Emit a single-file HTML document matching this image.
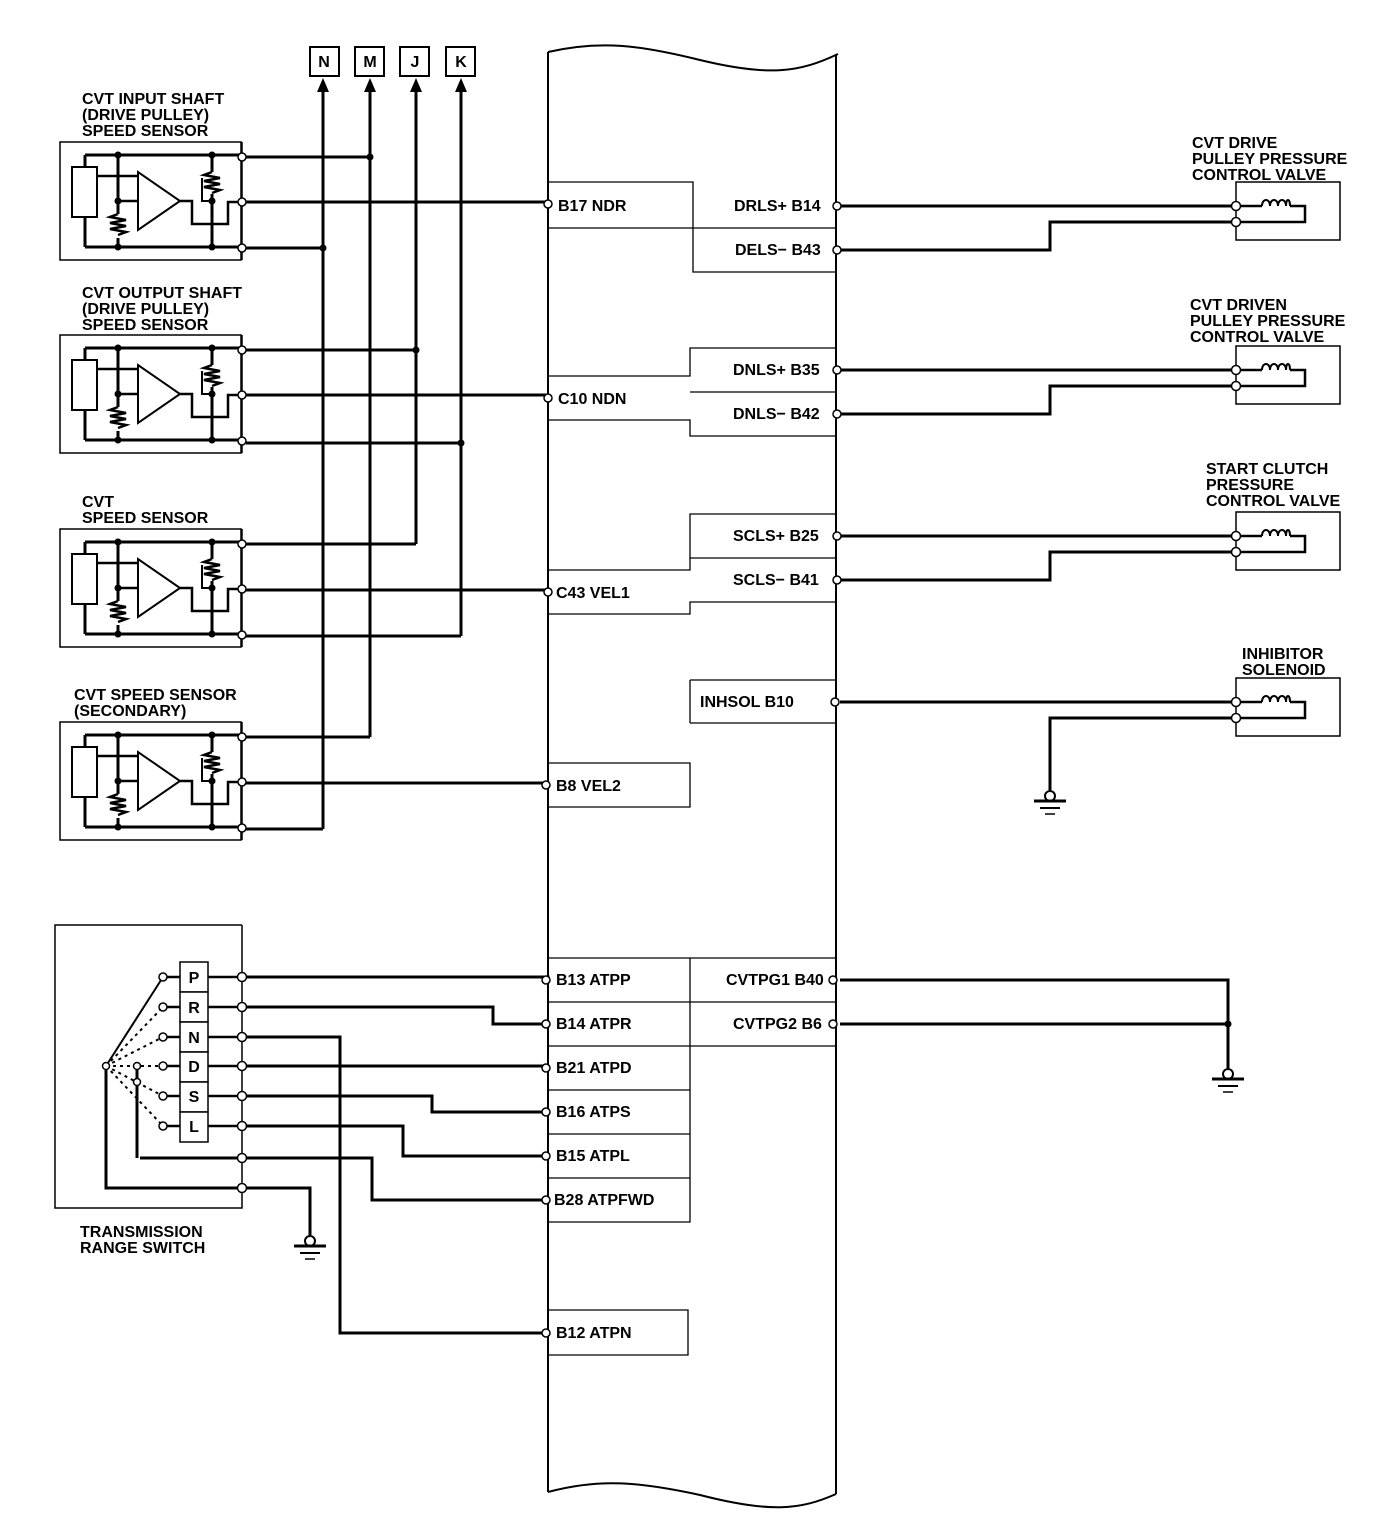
<!DOCTYPE html>
<html><head><meta charset="utf-8"><style>
html,body{margin:0;padding:0;background:#fff;}
svg{display:block;}
text{font-family:"Liberation Sans",Arial,sans-serif;font-weight:bold;font-size:16px;fill:#000;}
</style></head><body>
<svg width="1392" height="1526" viewBox="0 0 1392 1526" xmlns="http://www.w3.org/2000/svg">
<defs>
<g id="sensor" fill="none" stroke="#000">
  <rect x="60" y="0" width="181" height="118" stroke-width="1.5"/>
  <path d="M85 13 H242 M85 105 H242 M85 13 V25 M85 75 V105" stroke-width="3"/>
  <rect x="72" y="25" width="25" height="50" stroke-width="2"/>
  <path d="M118 13 V72 M118 96 V105 M212 13 V30 M212 52 V105" stroke-width="3"/>
  <path d="M118 72 l-8 3 l16 3 l-16 3 l16 3 l-16 3 l16 3 l-8 3" stroke-width="2.5"/>
  <path d="M212 30 l-8 3 l16 3 l-16 3 l16 3 l-16 3 l16 3 l-8 3" stroke-width="2.5"/>
  <path d="M97 34 H138 M118 59 H138" stroke-width="2.5"/>
  <path d="M138 30 V88 L180 59 Z" stroke-width="2" fill="#fff"/>
  <path d="M180 59 H192 V82 H228 V60 H242" stroke-width="2.5"/>
  <path d="M202 36 V59 H212" stroke-width="2"/>
  <g fill="#000" stroke="none">
    <circle cx="118" cy="13" r="3.5"/><circle cx="118" cy="59" r="3.5"/><circle cx="118" cy="105" r="3.5"/>
    <circle cx="212" cy="13" r="3.5"/><circle cx="212" cy="59" r="3.5"/><circle cx="212" cy="105" r="3.5"/>
  </g>
  <line x1="242" y1="0" x2="242" y2="118" stroke-width="1.5"/>
  <g fill="#fff" stroke-width="1.5">
    <circle cx="242" cy="15" r="4"/><circle cx="242" cy="60" r="4"/><circle cx="242" cy="106" r="4"/>
  </g>
</g>
<g id="valve" fill="none" stroke="#000">
  <path d="M1236 -24 H1340 V34 H1236 Z" stroke-width="1.5"/>
  <path d="M1240 0 H1262 M1290 0 H1305 V16 H1240" stroke-width="2.5"/>
  <path d="M1262 0 c0 -8 8 -8 8 0 c0 -8 8 -8 8 0 c0 -8 8 -8 8 0 c0 -8 4 -8 4 0" stroke-width="2"/>
  <circle cx="1236" cy="0" r="4.5" fill="#fff" stroke-width="1.5"/>
  <circle cx="1236" cy="16" r="4.5" fill="#fff" stroke-width="1.5"/>
</g>
<g id="gnd" fill="none" stroke="#000">
  <circle cx="0" cy="-4" r="5" fill="#fff" stroke-width="2"/>
  <path d="M-16 1 H16" stroke-width="3"/><path d="M-10 8 H10" stroke-width="2"/><path d="M-5 14 H5" stroke-width="1.5"/>
</g>
</defs>

<g fill="none" stroke="#000" stroke-width="2">
  <path d="M548 52 C600 40 640 45 700 60 C770 77 800 72 838 54"/>
  <path d="M548 52 V1492 M836 54 V1494"/>
  <path d="M548 1492 C600 1478 640 1482 700 1495 C770 1513 800 1510 836 1494"/>
</g>

<use href="#sensor" transform="translate(0,142)"/>
<use href="#sensor" transform="translate(0,335)"/>
<use href="#sensor" transform="translate(0,529)"/>
<use href="#sensor" transform="translate(0,722)"/>

<g>
<text x="82" y="104">CVT INPUT SHAFT</text><text x="82" y="120">(DRIVE PULLEY)</text><text x="82" y="136">SPEED SENSOR</text>
<text x="82" y="298">CVT OUTPUT SHAFT</text><text x="82" y="314">(DRIVE PULLEY)</text><text x="82" y="330">SPEED SENSOR</text>
<text x="82" y="507">CVT</text><text x="82" y="523">SPEED SENSOR</text>
<text x="74" y="700">CVT SPEED SENSOR</text><text x="74" y="716">(SECONDARY)</text>
</g>

<g stroke="#000" stroke-width="3" fill="none">
  <path d="M323 88 V829 M370 88 V737 M416 88 V544 M461 88 V636"/>
  <path d="M246 157 H370 M246 248 H323 M246 202 H548 V204"/>
  <path d="M246 350 H416 M246 443 H461 M246 395 H548"/>
  <path d="M246 544 H416 M246 636 H461 M246 590 H548"/>
  <path d="M246 737 H370 M246 829 H323 M246 783 H548"/>
</g>
<g fill="#000">
  <path d="M317 92 L323 78 L329 92 Z"/><path d="M364 92 L370 78 L376 92 Z"/><path d="M410 92 L416 78 L422 92 Z"/><path d="M455 92 L461 78 L467 92 Z"/>
  <circle cx="370" cy="157" r="3.5"/><circle cx="323" cy="248" r="3.5"/><circle cx="416" cy="350" r="3.5"/><circle cx="461" cy="443" r="3.5"/>
</g>
<g fill="#fff" stroke="#000" stroke-width="2">
  <rect x="310" y="47" width="29" height="29"/><rect x="355" y="47" width="29" height="29"/><rect x="400" y="47" width="29" height="29"/><rect x="446" y="47" width="29" height="29"/>
</g>
<text x="324" y="67" text-anchor="middle" font-size="15">N</text><text x="370" y="67" text-anchor="middle" font-size="15">M</text><text x="415" y="67" text-anchor="middle" font-size="15">J</text><text x="461" y="67" text-anchor="middle" font-size="15">K</text>

<g fill="none" stroke="#000" stroke-width="1.3">
  <path d="M548 182 H693 V272 H836 M548 228 H836"/>
  <path d="M548 376 H690 V348 H836 M548 420 H690 V436 H836 M690 392 H836"/>
  <path d="M548 570 H690 V514 H836 M548 614 H690 V602 H836 M690 558 H836"/>
  <path d="M690 680 H836 M690 723 H836 M690 680 V723"/>
  <path d="M548 763 H690 V807 H548"/>
  <path d="M548 958 H690 V1222 H548 M548 1002 H690 M548 1046 H836 M548 1090 H690 M548 1134 H690 M548 1178 H690 M690 958 H836 M690 1002 H836"/>
  <path d="M548 1310 H688 V1355 H548"/>
</g>
<g>
<text x="558" y="211">B17 NDR</text><text x="558" y="404">C10 NDN</text><text x="556" y="598">C43 VEL1</text><text x="556" y="791">B8 VEL2</text>
<text x="734" y="211">DRLS+ B14</text><text x="735" y="255">DELS− B43</text>
<text x="733" y="375">DNLS+ B35</text><text x="733" y="419">DNLS− B42</text>
<text x="733" y="541">SCLS+ B25</text><text x="733" y="585">SCLS− B41</text>
<text x="700" y="707">INHSOL B10</text>
<text x="726" y="985">CVTPG1 B40</text><text x="733" y="1029">CVTPG2 B6</text>
<text x="556" y="985">B13 ATPP</text><text x="556" y="1029">B14 ATPR</text><text x="556" y="1073">B21 ATPD</text>
<text x="556" y="1117">B16 ATPS</text><text x="556" y="1161">B15 ATPL</text><text x="554" y="1205">B28 ATPFWD</text>
<text x="556" y="1338">B12 ATPN</text>
</g>

<g stroke="#000" stroke-width="3" fill="none">
  <path d="M840 206 H1232 M840 250 H1050 V222 H1232"/>
  <path d="M840 370 H1232 M840 414 H1050 V386 H1232"/>
  <path d="M840 536 H1232 M840 580 H1050 V552 H1232"/>
  <path d="M840 702 H1232 M1232 718 H1050 V790"/>
  <path d="M840 980 H1228 V1068 M840 1024 H1228"/>
</g>
<circle cx="1228" cy="1024" r="3.5" fill="#000"/>
<use href="#valve" transform="translate(0,206)"/>
<use href="#valve" transform="translate(0,370)"/>
<use href="#valve" transform="translate(0,536)"/>
<use href="#valve" transform="translate(0,702)"/>
<use href="#gnd" transform="translate(1050,800)"/>
<use href="#gnd" transform="translate(1228,1078)"/>
<g fill="#fff" stroke="#000" stroke-width="1.5">
  <circle cx="837" cy="206" r="4"/><circle cx="837" cy="250" r="4"/><circle cx="837" cy="370" r="4"/><circle cx="837" cy="414" r="4"/>
  <circle cx="837" cy="536" r="4"/><circle cx="837" cy="580" r="4"/><circle cx="835" cy="702" r="4"/>
  <circle cx="833" cy="980" r="4"/><circle cx="833" cy="1024" r="4"/>
  <circle cx="548" cy="204" r="4"/><circle cx="548" cy="398" r="4"/><circle cx="548" cy="592" r="4"/><circle cx="546" cy="785" r="4"/>
</g>
<g>
<text x="1192" y="148">CVT DRIVE</text><text x="1192" y="164">PULLEY PRESSURE</text><text x="1192" y="180">CONTROL VALVE</text>
<text x="1190" y="310">CVT DRIVEN</text><text x="1190" y="326">PULLEY PRESSURE</text><text x="1190" y="342">CONTROL VALVE</text>
<text x="1206" y="474">START CLUTCH</text><text x="1206" y="490">PRESSURE</text><text x="1206" y="506">CONTROL VALVE</text>
<text x="1242" y="659">INHIBITOR</text><text x="1242" y="675">SOLENOID</text>
</g>

<g fill="none" stroke="#000">
  <path d="M242 925 H55 V1208 H242 V925" stroke-width="1.5"/>
  <path d="M246 977 H548 V980 M246 1007 H493 V1024 H548 M246 1037 H340 V1333 H548 M246 1066 H548 M246 1096 H432 V1112 H548 M246 1126 H403 V1156 H548 M140 1158 H372 V1200 H548 M106 1066 V1188 H310 V1236 M137 1068 V1158" stroke-width="3"/>
  <path d="M106 1066 L163 977" stroke-width="2"/>
  <path d="M106 1066 L163 1007 M106 1066 L163 1037 M106 1066 L163 1066 M106 1066 L163 1096 M106 1066 L163 1126" stroke-width="2" stroke-dasharray="3 4"/>
  <path d="M167 977 H180 M167 1007 H180 M167 1037 H180 M167 1066 H180 M167 1096 H180 M167 1126 H180 M208 977 H242 M208 1007 H242 M208 1037 H242 M208 1066 H242 M208 1096 H242 M208 1126 H242" stroke-width="2.5"/>
</g>
<g fill="#fff" stroke="#000" stroke-width="1.5">
  <rect x="180" y="962" width="28" height="30"/><rect x="180" y="992" width="28" height="30"/><rect x="180" y="1022" width="28" height="30"/>
  <rect x="180" y="1052" width="28" height="30"/><rect x="180" y="1082" width="28" height="30"/><rect x="180" y="1112" width="28" height="30"/>
  <circle cx="163" cy="977" r="4"/><circle cx="163" cy="1007" r="4"/><circle cx="163" cy="1037" r="4"/><circle cx="163" cy="1066" r="4"/><circle cx="163" cy="1096" r="4"/><circle cx="163" cy="1126" r="4"/>
  <circle cx="106" cy="1066" r="3.5"/><circle cx="137" cy="1066" r="3.5"/><circle cx="137" cy="1082" r="3.5"/>
  <circle cx="242" cy="977" r="4.5"/><circle cx="242" cy="1007" r="4.5"/><circle cx="242" cy="1037" r="4.5"/><circle cx="242" cy="1066" r="4.5"/>
  <circle cx="242" cy="1096" r="4.5"/><circle cx="242" cy="1126" r="4.5"/><circle cx="242" cy="1158" r="4.5"/><circle cx="242" cy="1188" r="4.5"/>
  <circle cx="546" cy="980" r="4"/><circle cx="546" cy="1024" r="4"/><circle cx="546" cy="1068" r="4"/><circle cx="546" cy="1112" r="4"/>
  <circle cx="546" cy="1156" r="4"/><circle cx="546" cy="1200" r="4"/><circle cx="546" cy="1333" r="4"/>
</g>
<use href="#gnd" transform="translate(310,1245)"/>
<g text-anchor="middle">
<text x="194" y="983">P</text><text x="194" y="1013">R</text><text x="194" y="1043">N</text><text x="194" y="1072">D</text><text x="194" y="1102">S</text><text x="194" y="1132">L</text>
</g>
<text x="80" y="1237">TRANSMISSION</text><text x="80" y="1253">RANGE SWITCH</text>
</svg>
</body></html>
